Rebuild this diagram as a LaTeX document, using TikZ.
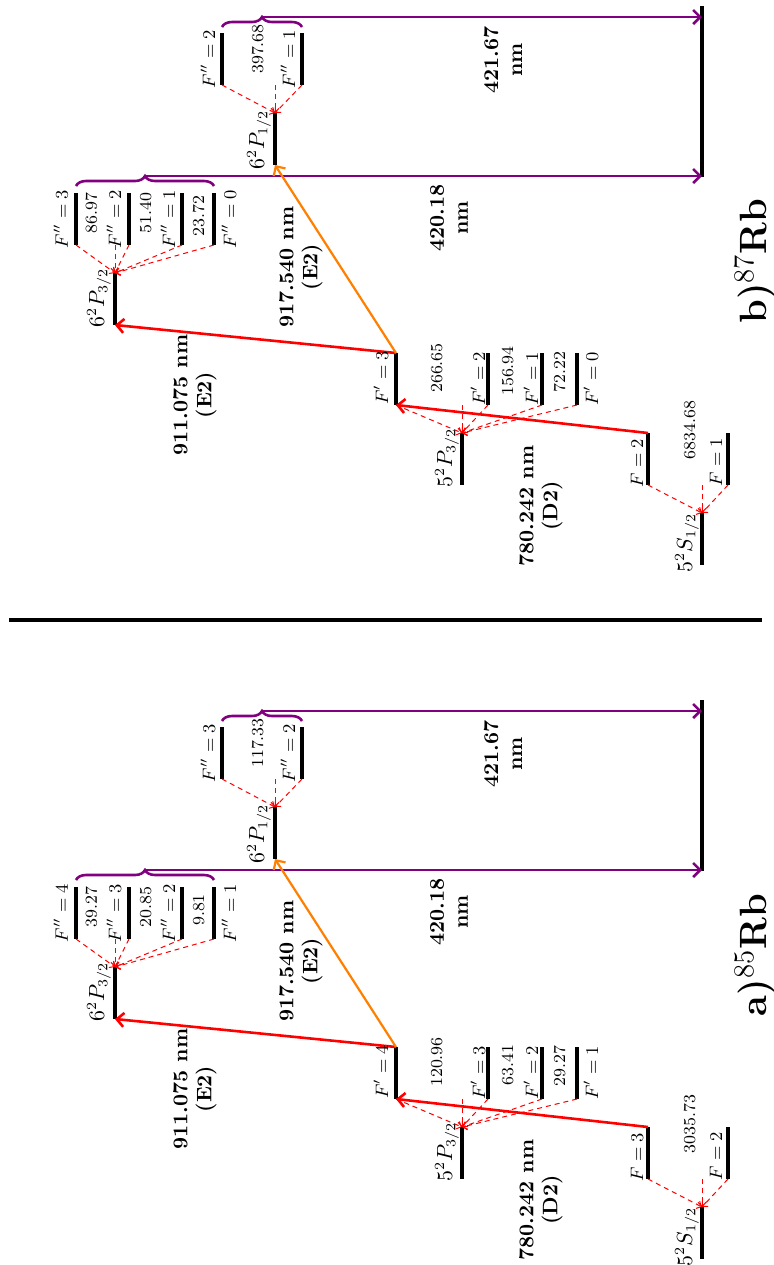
\documentclass[tikz,border=0pt]{standalone}
\usetikzlibrary{arrows.meta,decorations.pathreplacing}
\definecolor{myorange}{RGB}{255,128,0}
\definecolor{mypurple}{RGB}{128,0,128}
\tikzset{
  lvl/.style={line width=1.6pt},
  hfarrow/.style={red, line width=0.5pt, dash pattern=on 2.5pt off 2pt, -{Straight Barb[length=2pt,width=4pt]}},
  laser/.style={red, line width=1.3pt, -{Straight Barb[length=3.5pt,width=7pt]}},
  laserE/.style={myorange, line width=1.1pt, -{Straight Barb[length=3.5pt,width=7pt]}},
  decay/.style={mypurple, line width=1.3pt, -{Straight Barb[length=3.5pt,width=7pt]}},
  bracestyle/.style={mypurple, line width=1.3pt, decorate, decoration={brace, amplitude=5pt}},
  flab/.style={rotate=90, anchor=base, inner sep=0pt, font=\fontsize{9.2}{11}\selectfont},
  nlab/.style={rotate=90, anchor=base, inner sep=0pt, font=\fontsize{8.4}{10}\selectfont},
  llab/.style={rotate=90, anchor=base, inner sep=0pt, font=\fontsize{10.5}{13}\selectfont},
  wlab/.style={rotate=90, align=center, inner sep=0pt, font=\fontsize{10.5}{12}\selectfont\bfseries},
  plab/.style={rotate=90, anchor=base, inner sep=0pt, font=\fontsize{19}{22}\selectfont},
}
\newcommand\levelgeom[1]{%
  % 5S1/2
  \coordinate (#1S-t) at (702,1207); \coordinate (#1S-b) at (702,1259); \coordinate (#1S-c) at (702,1179);
  \draw[lvl] (#1S-t) -- (#1S-b);
  \foreach \n/\x in {1/648,2/728}{
    \coordinate (#1Sh\n-t) at (\x,1127); \coordinate (#1Sh\n-b) at (\x,1179);
    \draw[lvl] (#1Sh\n-t) -- (#1Sh\n-b);
    \draw[hfarrow] (#1Sh\n-b) -- (#1S-t);
  }
  \draw[hfarrow] (#1S-c) -- (#1S-t);
  % 5P3/2
  \coordinate (#1P-t) at (462,1127); \coordinate (#1P-b) at (462,1179); \coordinate (#1P-c) at (462,1099);
  \draw[lvl] (#1P-t) -- (#1P-b);
  \foreach \n/\x in {1/396,2/488,3/542,4/577}{
    \coordinate (#1Ph\n-t) at (\x,1047); \coordinate (#1Ph\n-b) at (\x,1099);
    \draw[lvl] (#1Ph\n-t) -- (#1Ph\n-b);
    \draw[hfarrow] (#1Ph\n-b) -- (#1P-t);
  }
  \draw[hfarrow] (#1P-c) -- (#1P-t);
  % 6P3/2
  \coordinate (#1PP-t) at (115,967); \coordinate (#1PP-b) at (115,1019); \coordinate (#1PP-c) at (115,939);
  \draw[lvl] (#1PP-t) -- (#1PP-b);
  \foreach \n/\x in {1/76,2/129,3/182,4/214}{
    \coordinate (#1PPh\n-t) at (\x,887); \coordinate (#1PPh\n-b) at (\x,939);
    \draw[lvl] (#1PPh\n-t) -- (#1PPh\n-b);
    \draw[hfarrow] (#1PPh\n-b) -- (#1PP-t);
  }
  \draw[hfarrow] (#1PP-c) -- (#1PP-t);
  % 6P1/2
  \coordinate (#1Q-t) at (275,807); \coordinate (#1Q-b) at (275,859); \coordinate (#1Q-c) at (275,779);
  \draw[lvl] (#1Q-t) -- (#1Q-b);
  \foreach \n/\x in {1/222,2/302}{
    \coordinate (#1Qh\n-t) at (\x,727); \coordinate (#1Qh\n-b) at (\x,779);
    \draw[lvl] (#1Qh\n-t) -- (#1Qh\n-b);
    \draw[hfarrow] (#1Qh\n-b) -- (#1Q-t);
  }
  \draw[hfarrow] (#1Q-c) -- (#1Q-t);
  % ground state (decay target)
  \coordinate (#1G-t) at (702,700); \coordinate (#1G-b) at (702,871);
  \coordinate (#1G-1) at (702,711); \coordinate (#1G-2) at (702,870);
  \draw[lvl] (#1G-t) -- (#1G-b);
  % braces and decays
  \coordinate (#1B1-l) at (76,880); \coordinate (#1B1-r) at (214,880); \coordinate (#1B1-tip) at (145,870);
  \coordinate (#1B2-l) at (222,721); \coordinate (#1B2-r) at (302,721); \coordinate (#1B2-tip) at (262,711);
  \draw[bracestyle] (#1B1-l) -- (#1B1-r);
  \draw[bracestyle] (#1B2-l) -- (#1B2-r);
  \draw[decay] (#1B1-tip) -- (#1G-2);
  \draw[decay] (#1B2-tip) -- (#1G-1);
  % lasers
  \draw[laser] (#1Sh1-t) -- (#1Ph1-b);
  \draw[laser] (#1Ph1-t) -- (#1PP-b);
  \draw[laserE] (#1Ph1-t) -- (#1Q-b);
  % common labels
  \node[llab] (#1Slab) at (692,1237) {$5^2S_{1/2}$};
  \node[llab] (#1Plab) at (452,1152) {$5^2P_{3/2}$};
  \node[llab] (#1PPlab) at (104,992) {$6^2P_{3/2}$};
  \node[llab] (#1Qlab) at (264,834) {$6^2P_{1/2}$};
  \node[wlab] (#1w780) at (541,1200) {780.242 nm\\(D2)};
  \node[wlab] (#1w911) at (195,1089) {911.075 nm\\(E2)};
  \node[wlab] (#1w917) at (301,961) {917.540 nm\\(E2)};
  \node[wlab] (#1w420) at (449,912) {420.18\\nm};
  \node[wlab] (#1w421) at (503,754) {421.67\\nm};
}
\begin{document}
\begin{tikzpicture}[x=0.5pt,y=-0.5pt]
\useasboundingbox (0,0) rectangle (774,1265);
% separator
\coordinate (sepL) at (9,620); \coordinate (sepR) at (762,620);
\draw[line width=1.6pt] (sepL) -- (sepR);
% ---------- panel a: 85Rb ----------
\levelgeom{a}
\node[flab] (aQf1) at (215,753) {$F''=3$};
\node[flab] (aQf2) at (295,753) {$F''=2$};
\node[nlab] (aQn1) at (263,743) {117.33};
\node[flab] (aPPf1) at (68,913) {$F''=4$};
\node[flab] (aPPf2) at (121,913) {$F''=3$};
\node[flab] (aPPf3) at (175,913) {$F''=2$};
\node[flab] (aPPf4) at (236,913) {$F''=1$};
\node[nlab] (aPPn1) at (97,907) {39.27};
\node[nlab] (aPPn2) at (151,907) {20.85};
\node[nlab] (aPPn3) at (204,910) {9.81};
\node[flab] (aPf1) at (388,1072) {$F'=4$};
\node[flab] (aPf2) at (485,1073) {$F'=3$};
\node[flab] (aPf3) at (538,1073) {$F'=2$};
\node[flab] (aPf4) at (598,1073) {$F'=1$};
\node[nlab] (aPn1) at (442,1062) {120.96};
\node[nlab] (aPn2) at (513,1065) {63.41};
\node[nlab] (aPn3) at (565,1066) {29.27};
\node[flab] (aSf1) at (643,1157) {$F=3$};
\node[flab] (aSf2) at (722,1156) {$F=2$};
\node[nlab] (aSn1) at (695,1124) {3035.73};
\node[plab] (apanel) at (766,955) {\textbf{a)}$^{85}$\textbf{Rb}};
% ---------- panel b: 87Rb ----------
\begin{scope}[shift={(0,-694)}]
\levelgeom{b}
\node[flab] (bQf1) at (215,753) {$F''=2$};
\node[flab] (bQf2) at (295,753) {$F''=1$};
\node[nlab] (bQn1) at (263,743) {397.68};
\node[flab] (bPPf1) at (68,913) {$F''=3$};
\node[flab] (bPPf2) at (121,913) {$F''=2$};
\node[flab] (bPPf3) at (175,913) {$F''=1$};
\node[flab] (bPPf4) at (236,913) {$F''=0$};
\node[nlab] (bPPn1) at (97,907) {86.97};
\node[nlab] (bPPn2) at (151,907) {51.40};
\node[nlab] (bPPn3) at (204,910) {23.72};
\node[flab] (bPf1) at (388,1072) {$F'=3$};
\node[flab] (bPf2) at (485,1073) {$F'=2$};
\node[flab] (bPf3) at (538,1073) {$F'=1$};
\node[flab] (bPf4) at (598,1073) {$F'=0$};
\node[nlab] (bPn1) at (442,1062) {266.65};
\node[nlab] (bPn2) at (513,1065) {156.94};
\node[nlab] (bPn3) at (565,1066) {72.22};
\node[flab] (bSf1) at (643,1157) {$F=2$};
\node[flab] (bSf2) at (722,1156) {$F=1$};
\node[nlab] (bSn1) at (695,1124) {6834.68};
\node[plab] (bpanel) at (766,955) {\textbf{b)}$^{87}$\textbf{Rb}};
\end{scope}
\end{tikzpicture}
\end{document}
